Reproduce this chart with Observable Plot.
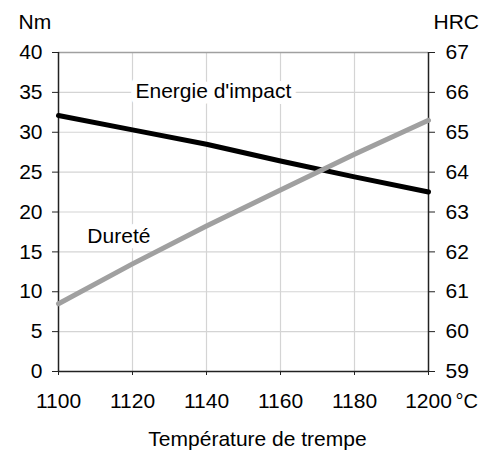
<!DOCTYPE html>
<html>
<head>
<meta charset="utf-8">
<script src="https://cdn.jsdelivr.net/npm/d3@7"></script>
<script src="https://cdn.jsdelivr.net/npm/@observablehq/plot@0.6"></script>
<style>
  html, body { margin: 0; padding: 0; background: white; }
</style>
</head>
<body>
<div id="chart"></div>
<script>
const temps = [1100, 1120, 1140, 1160, 1180, 1200];
const energie = [32.1, 30.3, 28.5, 26.4, 24.4, 22.5];   // Nm
const durete = [60.7, 61.7, 62.65, 63.55, 64.45, 65.3];  // HRC
const nmTicks = [0, 5, 10, 15, 20, 25, 30, 35, 40];
const hrcTicks = [59, 60, 61, 62, 63, 64, 65, 66, 67];
const xTicks = [1100, 1120, 1140, 1160, 1180, 1200];

const hrcToNm = h => (h - 59) * 5;

const energieData = temps.map((t, i) => ({t, v: energie[i]}));
const dureteData = temps.map((t, i) => ({t, v: hrcToNm(durete[i])}));

const font = "'Liberation Sans', Arial, sans-serif";

const chart = Plot.plot({
  width: 480,
  height: 452,
  marginLeft: 58,
  marginRight: 52,
  marginTop: 52,
  marginBottom: 81,
  style: {fontFamily: font, fontSize: "21px", background: "white", color: "black"},
  x: {domain: [1100, 1200]},
  y: {domain: [0, 40]},
  marks: [
    Plot.gridY(nmTicks.slice(1, -1), {stroke: "#d4d4d4", strokeOpacity: 1, strokeWidth: 1.2}),
    Plot.gridX(xTicks.slice(1, -1), {stroke: "#d4d4d4", strokeOpacity: 1, strokeWidth: 1.2}),
    Plot.ruleY([40], {stroke: "#a0a0a0", strokeWidth: 1.3}),
    Plot.axisY(nmTicks, {anchor: "left", tickSize: 6, tickPadding: 10, label: null, stroke: "#222"}),
    Plot.axisY(nmTicks, {anchor: "right", tickSize: 6, tickPadding: 11, label: null, tickFormat: d => hrcTicks[nmTicks.indexOf(d)], stroke: "#222"}),
    Plot.axisX(xTicks, {anchor: "bottom", tickSize: 4, tickPadding: 18, label: null, tickFormat: d => String(d), stroke: "#222"}),
    Plot.ruleX([1100, 1200], {stroke: "#222", strokeWidth: 1.5}),
    Plot.ruleY([0], {stroke: "#222", strokeWidth: 1.5}),
    Plot.line(energieData, {x: "t", y: "v", stroke: "black", strokeWidth: 5}),
    Plot.line(dureteData, {x: "t", y: "v", stroke: "#a0a0a0", strokeWidth: 5}),
    Plot.text([{t: 1120.8, v: 35.2, s: "Energie d'impact"}], {x: "t", y: "v", text: "s", textAnchor: "start", fill: "black", stroke: "white", strokeWidth: 12}),
    Plot.text([{t: 1107.8, v: 16.97, s: "Dureté"}], {x: "t", y: "v", text: "s", textAnchor: "start", fill: "black", stroke: "white", strokeWidth: 12}),
    Plot.text(["Nm"], {frameAnchor: "top-left", text: d => d, textAnchor: "start", lineAnchor: "bottom", dx: -40, dy: -24}),
    Plot.text(["HRC"], {frameAnchor: "top-right", text: d => d, textAnchor: "start", lineAnchor: "bottom", dx: 5, dy: -24}),
    Plot.text(["°C"], {frameAnchor: "bottom-right", text: d => d, textAnchor: "start", lineAnchor: "bottom", dx: 27, dy: 36, fontSize: 20}),
    Plot.text(["Température de trempe"], {frameAnchor: "bottom", text: d => d, textAnchor: "middle", lineAnchor: "bottom", dx: 14, dy: 74})
  ]
});
document.getElementById("chart").appendChild(chart);
</script>
</body>
</html>
